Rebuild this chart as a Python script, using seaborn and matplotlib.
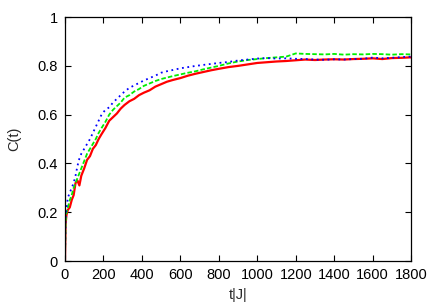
import pandas as pd
import matplotlib
matplotlib.use("Agg")
import matplotlib.pyplot as plt
import seaborn as sns

# time grid shared by the three curves
t = [0, 3, 8, 15, 25, 35, 45, 55, 65, 75, 85, 100, 115, 130, 145, 160, 175, 190,
     210, 230, 250, 270, 290, 310, 335, 360, 385, 410, 440, 470, 500, 530, 560,
     600, 640, 680, 720, 760, 800, 850, 900, 950, 1000, 1050, 1100, 1150, 1200,
     1250, 1300, 1350, 1400, 1450, 1500, 1550, 1600, 1650, 1700, 1750, 1800]

c_red = [0.0, 0.15, 0.19, 0.21, 0.22, 0.25, 0.27, 0.32, 0.33, 0.31, 0.35, 0.38,
         0.415, 0.43, 0.46, 0.475, 0.50, 0.52, 0.545, 0.575, 0.59, 0.605, 0.625,
         0.64, 0.655, 0.665, 0.68, 0.69, 0.70, 0.715, 0.725, 0.735, 0.742, 0.75,
         0.76, 0.768, 0.775, 0.782, 0.788, 0.795, 0.80, 0.806, 0.812, 0.815,
         0.818, 0.82, 0.823, 0.826, 0.824, 0.826, 0.827, 0.826, 0.828, 0.829,
         0.831, 0.828, 0.832, 0.833, 0.835]

c_green = [0.0, 0.16, 0.2, 0.22, 0.25, 0.27, 0.30, 0.32, 0.34, 0.36, 0.38, 0.41,
           0.44, 0.46, 0.48, 0.50, 0.525, 0.545, 0.57, 0.60, 0.62, 0.635, 0.65,
           0.67, 0.68, 0.695, 0.705, 0.718, 0.728, 0.738, 0.746, 0.752, 0.758,
           0.765, 0.772, 0.778, 0.786, 0.793, 0.80, 0.81, 0.818, 0.824, 0.828,
           0.832, 0.835, 0.838, 0.851, 0.849, 0.848, 0.847, 0.849, 0.846, 0.848,
           0.847, 0.849, 0.848, 0.846, 0.848, 0.847]

c_blue = [0.0, 0.18, 0.22, 0.26, 0.28, 0.30, 0.32, 0.35, 0.39, 0.42, 0.44, 0.46,
          0.48, 0.50, 0.525, 0.55, 0.575, 0.60, 0.62, 0.63, 0.65, 0.665, 0.68,
          0.695, 0.71, 0.72, 0.73, 0.74, 0.75, 0.76, 0.772, 0.778, 0.783, 0.79,
          0.795, 0.80, 0.804, 0.808, 0.812, 0.816, 0.822, 0.826, 0.83, 0.832,
          0.83, 0.831, 0.829, 0.828, 0.826, 0.825, 0.827, 0.826, 0.828, 0.829,
          0.834, 0.831, 0.833, 0.836, 0.838]

sns.set_style("ticks")
plt.rcParams["font.family"] = ["Liberation Sans", "DejaVu Sans"]

fig = plt.figure(figsize=(4.36, 3.05), dpi=100)
ax = fig.add_axes([0.149, 0.144, 0.794, 0.8])

sns.lineplot(x=t, y=c_red, color="#ff0000", linewidth=1.6, ax=ax)
sns.lineplot(x=t, y=c_green, color="#00ee00", linewidth=1.3, ax=ax)
ax.lines[-1].set_dashes([2.5, 1.2])
sns.lineplot(x=t, y=c_blue, color="#0000ff", linewidth=1.3, ax=ax)
ax.lines[-1].set_dashes([1, 2])

ax.set_xlim(0, 1800)
ax.set_ylim(0, 1)
ax.set_xticks(range(0, 1801, 200))
ax.set_yticks([0, 0.2, 0.4, 0.6, 0.8, 1])
ax.set_yticklabels(["0", "0.2", "0.4", "0.6", "0.8", "1"])
ax.tick_params(direction="in", length=4, width=0.8, top=True, right=True,
               labelsize=10.5, pad=5, colors="black")
for s in ax.spines.values():
    s.set_linewidth(0.9)
    s.set_color("black")
ax.set_xlabel("t|J|", fontsize=10.5, labelpad=4)
ax.set_ylabel("C(t)", fontsize=10.5, labelpad=12)

fig.savefig("out.png", dpi=100)
